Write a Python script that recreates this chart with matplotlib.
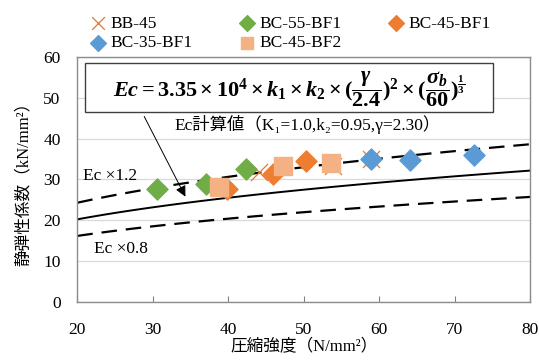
import numpy as np
import matplotlib
matplotlib.use('Agg')
from matplotlib import pyplot as plt
from matplotlib.patches import Rectangle

plt.rcParams['font.family'] = ['Liberation Serif', 'Noto Sans CJK JP']
plt.rcParams['mathtext.fontset'] = 'custom'
plt.rcParams['mathtext.rm'] = 'Liberation Serif:bold'
plt.rcParams['mathtext.it'] = 'Liberation Serif:italic:bold'
plt.rcParams['mathtext.bf'] = 'Liberation Serif:bold'

# measured points (compressive strength, static modulus)
bb45_x = [44.1, 53.9, 58.9]
bb45_y = [31.8, 33.3, 35.0]
bc55_x = [30.5, 37.0, 42.4]
bc55_y = [27.7, 28.8, 32.6]
bc45_x = [39.9, 45.9, 50.3]
bc45_y = [27.7, 31.4, 34.6]
bc35_x = [58.9, 64.1, 72.6]
bc35_y = [35.0, 34.8, 35.9]
bc45f2_x = [38.8, 47.2, 53.6]
bc45f2_y = [28.1, 33.2, 34.1]

# Ec formula constants (from the chart)
k1 = 1.0
k2 = 0.95
gamma = 2.30
sigma = np.linspace(20, 80, 121)
ec = 33.5 * k1 * k2 * (gamma / 2.4) ** 2 * (sigma / 60) ** (1 / 3)

fig = plt.figure(figsize=(5.39, 3.61), dpi=100)
ax = fig.add_axes([0.1434, 0.1626, 0.8399, 0.6804])

ax.plot(sigma, ec, color='black', lw=1.4, zorder=2)
ax.plot(sigma, ec * 1.2, color='black', lw=1.6, dashes=(7, 4), zorder=2)
ax.plot(sigma, ec * 0.8, color='black', lw=1.6, dashes=(7, 4), zorder=2)

h_bb = ax.scatter(bb45_x, bb45_y, marker='x', s=150, color='#E2782F', lw=0.9, zorder=3, label='BB-45')
h_55 = ax.scatter(bc55_x, bc55_y, marker='D', s=115, color='#70AD47', zorder=3, label='BC-55-BF1')
h_45 = ax.scatter(bc45_x, bc45_y, marker='D', s=115, color='#ED7D31', zorder=3, label='BC-45-BF1')
h_35 = ax.scatter(bc35_x, bc35_y, marker='D', s=115, color='#5B9BD5', zorder=3, label='BC-35-BF1')
h_f2 = ax.scatter(bc45f2_x, bc45f2_y, marker='s', s=150, color='#F4B183', zorder=4, label='BC-45-BF2')

ax.set_xlim(20, 80)
ax.set_ylim(0, 60)
ax.set_xticks(range(20, 81, 10))
ax.set_yticks(range(0, 61, 10))
ax.yaxis.grid(True, color='#D9D9D9', lw=0.9)
ax.set_axisbelow(True)
ax.tick_params(axis='x', direction='in', length=4, color='#808080', labelsize=12.5, pad=14)
ax.tick_params(axis='y', length=0, labelsize=12.5, pad=12)
for s in ax.spines.values():
    s.set_color('#8C8C8C')
    s.set_linewidth(1.0)

ax.set_xlabel('圧縮強度（N/mm²）', fontsize=12, labelpad=1)
ax.set_ylabel('静弾性係数（kN/mm²）', fontsize=12, labelpad=8)

# formula box
ax.add_patch(Rectangle((0.017, 0.774), 0.901, 0.200, transform=ax.transAxes,
                       facecolor='white', edgecolor='#404040', lw=1.0, zorder=5))
ax.text(0.468, 0.870,
        r'$Ec = 3.35 \times 10^4 \times k_1 \times k_2 \times (\dfrac{\gamma}{2.4})^2 \times (\dfrac{\sigma_b}{60})^{\frac{1}{3}}$',
        transform=ax.transAxes, ha='center', va='center', fontsize=16, zorder=6)

ax.text(0.509, 0.722, 'Ec計算値（K₁=1.0,k₂=0.95,γ=2.30）', transform=ax.transAxes,
        ha='center', va='center', fontsize=12.5)
ax.text(0.012, 0.515, 'Ec ×1.2', transform=ax.transAxes, ha='left', va='center', fontsize=12.5)
ax.text(0.038, 0.215, 'Ec ×0.8', transform=ax.transAxes, ha='left', va='center', fontsize=12.5)

ax.annotate('', xy=(34.5, 25.2), xytext=(28.7, 46.0),
            arrowprops=dict(arrowstyle='-|>', color='black', lw=0.7, mutation_scale=16), zorder=6)

handles = [h_bb, h_35, h_55, h_f2, h_45]
labels = [h.get_label() for h in handles]
fig.legend(handles, labels, ncol=3, loc='upper left', bbox_to_anchor=(0.128, 1.0),
           frameon=False, fontsize=12.5, handletextpad=0.0, columnspacing=2.35,
           labelspacing=0.2, handlelength=1.5, markerscale=0.75)

fig.savefig('out.png', dpi=100)
